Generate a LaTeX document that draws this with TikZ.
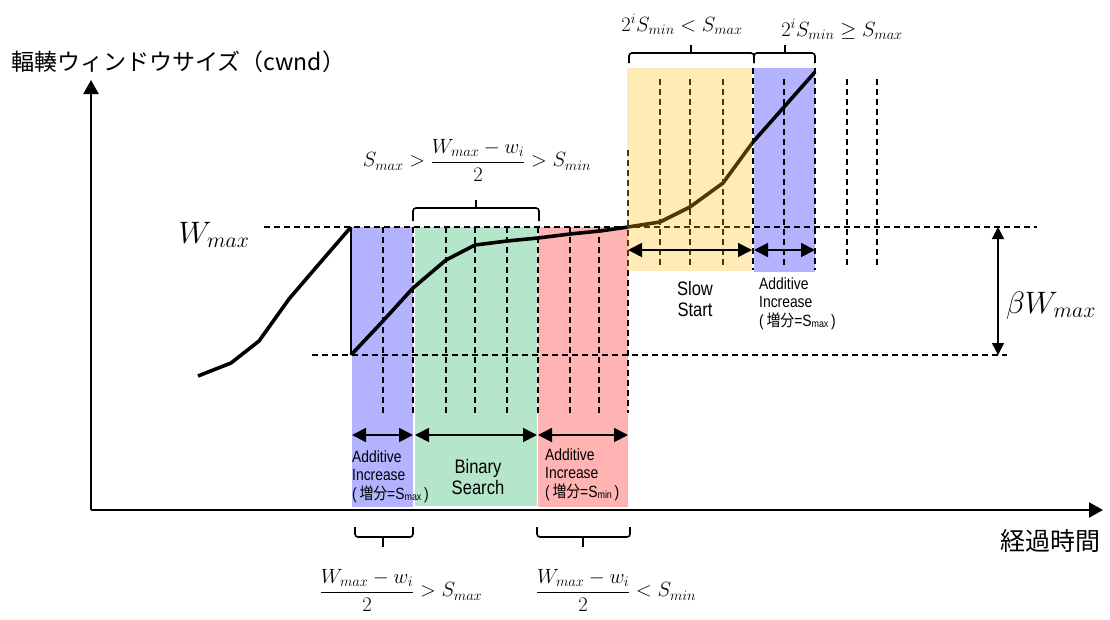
\documentclass[tikz,border=0pt]{standalone}
\usepackage{fix-cm}
\usepackage{fontspec}
\newfontfamily\jpfont{Noto Sans CJK JP}
\newfontfamily\jpnarrow[FakeStretch=0.85]{Noto Sans CJK JP}
\newfontfamily\arialn[FakeStretch=0.85]{Liberation Sans}
\usetikzlibrary{arrows.meta}
\definecolor{bandblue}{RGB}{179,179,255}
\definecolor{bandgreen}{RGB}{181,230,204}
\definecolor{bandpink}{RGB}{255,179,179}
\definecolor{ssyellow}{RGB}{255,190,17}
\newcommand\mylabfont{\arialn\fontsize{16.3}{18.5}\selectfont}
\newcommand\mybigfont{\arialn\fontsize{19.5}{21}\selectfont}
\newcommand\mysubm[1]{\raisebox{-1.5pt}{\fontsize{10.5}{10.5}\selectfont #1}}
\newcommand\mymath{\fontsize{20.6}{24}\selectfont}
\newcommand\mybigmath{\fontsize{31}{34}\selectfont}
\begin{document}
\begin{tikzpicture}[x=1pt,y=-1pt,
  curve/.style={line width=3.6pt, line join=round},
  dv/.style={line width=1.7pt, dash pattern=on 6pt off 4pt},
  dbl/.style={line width=1.8pt, {Triangle[length=14pt,width=14pt]}-{Triangle[length=14pt,width=14pt]}},
  vdbl/.style={line width=1.6pt, {Triangle[length=12pt,width=12pt]}-{Triangle[length=12pt,width=12pt]}},
  axis/.style={line width=2.2pt, -{Triangle[length=14pt,width=15pt]}},
  brc/.style={line width=1.6pt, rounded corners=3pt},
  lab/.style={font=\mylabfont, align=left, inner sep=0pt, anchor=north west},
  big/.style={font=\mybigfont, align=center, inner sep=0pt},
  fm/.style={font=\mymath, inner sep=0pt}]
\useasboundingbox (0,0) rectangle (1110,619);

% colored bands
\fill[bandblue] (352,227) rectangle (413,507);
\fill[bandgreen] (415,227) rectangle (537,506);
\fill[bandpink] (538,227) rectangle (628,507);
\fill[bandblue] (754,68) rectangle (815,272);

% dashed guides
\coordinate (wtopL) at (264,227); \coordinate (wtopR) at (1037,227);
\coordinate (wbotL) at (312,355); \coordinate (wbotR) at (1007,355);
\draw[dv] (wtopL) -- (wtopR);
\draw[dv] (wbotL) -- (wbotR);
\foreach \x in {383,413,446,475,507,538,570,599} \draw[dv] (\x,227) -- (\x,413);
\draw[dv] (628,150) -- (628,413);
\foreach \x in {660,690,723,784,847,877} \draw[dv] (\x,79) -- (\x,265);
\foreach \x in {753,815} \draw[dv] (\x,68) -- (\x,270);

% cwnd curve
\draw[curve] (198,376) -- (231,363) -- (259,341) -- (289,299) -- (319,264) -- (351,227);
\draw[line width=2pt] (351,227) -- (351,355);
\draw[curve] (351,355) -- (383,321) -- (413,288) -- (446,260) -- (475,245) -- (507,241)
  -- (538,238) -- (570,234) -- (600,231) -- (628,227) -- (660,222) -- (690,207)
  -- (723,183) -- (753,142) -- (784,107) -- (815,72);

% slow start overlay
\fill[ssyellow, fill opacity=0.3] (627,68) rectangle (752,271);

% phase arrows
\draw[dbl] (352,435) -- (413,435);
\draw[dbl] (415,435) -- (537,435);
\draw[dbl] (538,435) -- (628,435);
\draw[dbl] (628,250) -- (752,250);
\draw[dbl] (754,250) -- (815,250);
\coordinate (bwTop) at (998,227); \coordinate (bwBot) at (998,355);
\draw[vdbl] (bwTop) -- (bwBot);

% axes
\coordinate (origin) at (91,510);
\coordinate (ytip) at (91,80);
\coordinate (xtip) at (1103,510);
\draw[axis] (origin) -- (ytip);
\draw[axis] (origin) -- (xtip);

% braces
\draw[brc] (413,221) -- (413,208) -- (539,208) -- (539,221);
\draw[line width=1.6pt] (476,208) -- (476,200);
\draw[brc] (629,63) -- (629,53) -- (754,53) -- (754,63);
\draw[line width=1.6pt] (691,53) -- (691,45);
\draw[brc] (754,63) -- (754,53) -- (815,53) -- (815,63);
\draw[line width=1.6pt] (785,53) -- (785,45);
\draw[brc] (355,527) -- (355,537) -- (413,537) -- (413,527);
\draw[line width=1.6pt] (383,537) -- (383,547);
\draw[brc] (537,527) -- (537,537) -- (630,537) -- (630,527);
\draw[line width=1.6pt] (583,537) -- (583,547);

% axis titles
\node[font=\jpfont\fontsize{23}{23}\selectfont, anchor=west, inner sep=0pt] (ytitle) at (11,62) {輻輳ウィンドウサイズ（cwnd）};
\node[font=\jpfont\fontsize{25}{25}\selectfont, anchor=east, inner sep=0pt] (xtitle) at (1101,541) {経過時間};

% phase labels
\node[lab] (ai1) at (352,450) {Additive\\Increase\\(\,{\jpnarrow 増分}=S\mysubm{max}\,)};
\node[big] (bs) at (478,477) {Binary\\Search};
\node[lab] (ai2) at (545,448) {Additive\\Increase\\(\,{\jpnarrow 増分}=S\mysubm{min}\,)};
\node[big] (ss) at (695,299) {Slow\\Start};
\node[lab] (ai3) at (759,277) {Additive\\Increase\\(\,{\jpnarrow 増分}=S\mysubm{max}\,)};

% math labels
\node[font=\mybigmath, anchor=base, inner sep=0pt] (wmax) at (214,243) {$W_{max}$};
\node[font=\mybigmath, anchor=base, inner sep=0pt] (bwmax) at (1051,313) {$\beta W_{max}$};
\node[fm] (cond1) at (477,160) {$S_{max} > \displaystyle\frac{W_{max}-w_i}{2} > S_{min}$};
\node[fm, anchor=base] (cond2) at (682,31) {$2^iS_{min} < S_{max}$};
\node[fm, anchor=base] (cond3) at (842,36) {$2^iS_{min} \geq S_{max}$};
\node[fm] (cond4) at (401,590) {$\displaystyle\frac{W_{max}-w_i}{2} > S_{max}$};
\node[fm] (cond5) at (616,590) {$\displaystyle\frac{W_{max}-w_i}{2} < S_{min}$};
\end{tikzpicture}
\end{document}
